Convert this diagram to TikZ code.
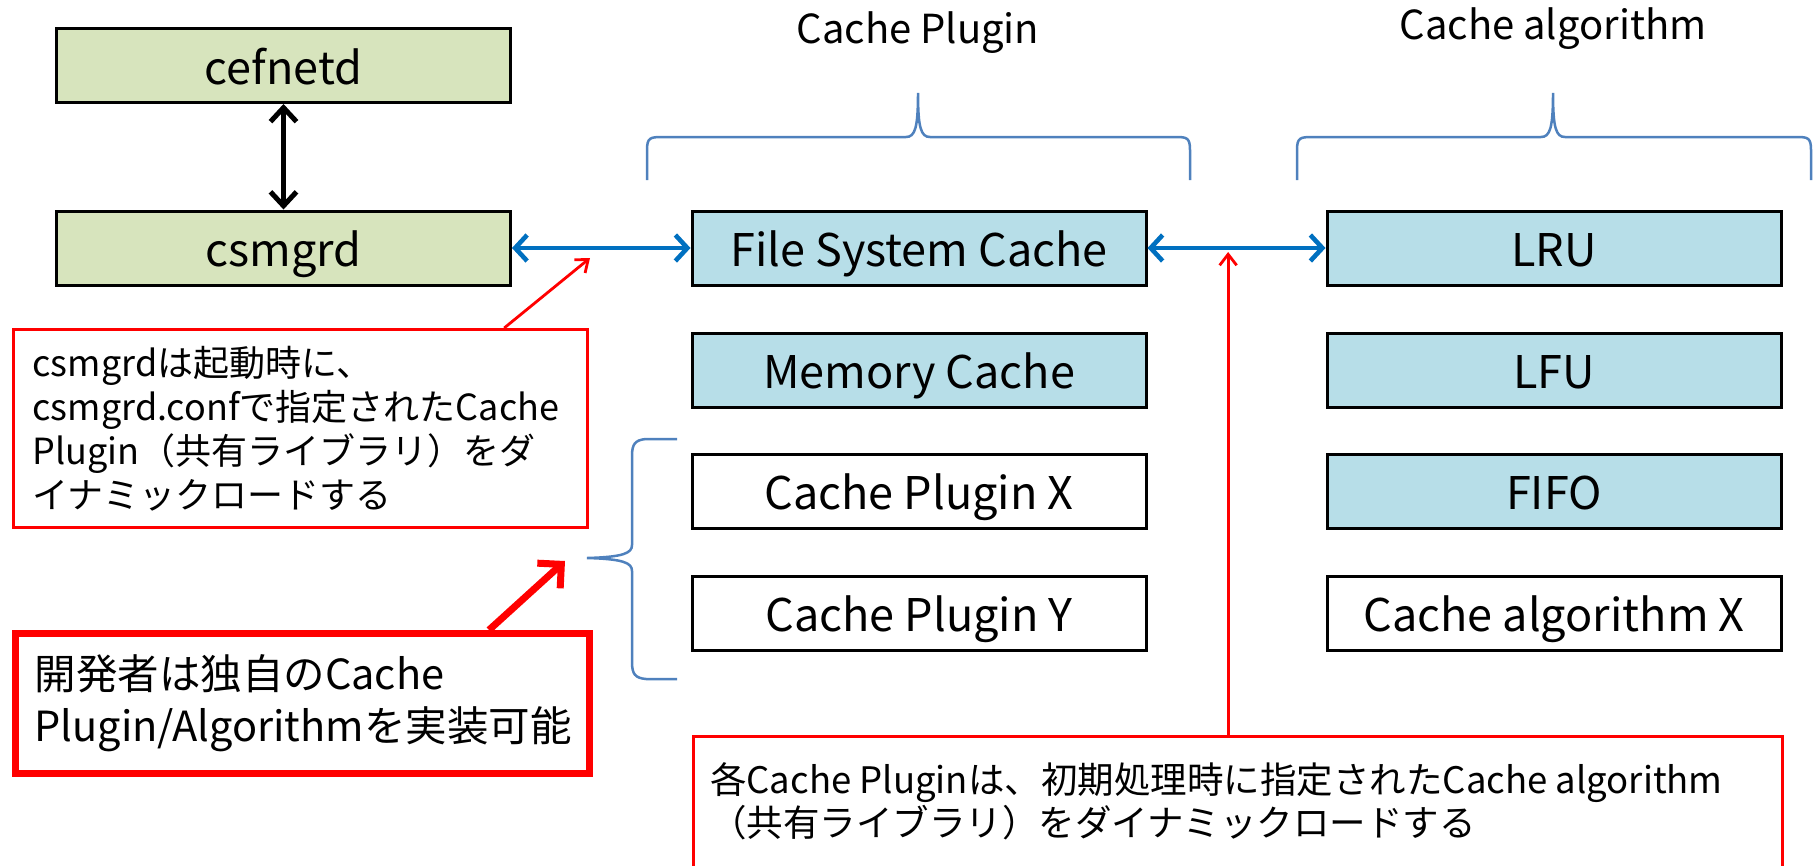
\documentclass[tikz,border=0pt]{standalone}
\usepackage{fontspec}
\setmainfont{Noto Sans CJK JP}
\usetikzlibrary{arrows.meta,calc}
\definecolor{grn}{HTML}{D7E4BD}
\definecolor{aq}{HTML}{B7DEE8}
\definecolor{blu}{HTML}{0070C0}
\definecolor{brc}{HTML}{4F81BD}
\definecolor{rd}{HTML}{FF0000}
\begin{document}
\begin{tikzpicture}[x=1pt,y=-1pt,
  box/.style={draw=black,line width=3pt,minimum width=454pt,minimum height=74pt,inner sep=0pt,text height=38pt,text depth=1pt,font=\fontsize{45}{54}\selectfont},
  barrow/.style={draw=blu,line width=4.6pt,{Straight Barb[length=12pt,width=26pt,line width=4.6pt]}-{Straight Barb[length=12pt,width=26pt,line width=4.6pt]}},
  karrow/.style={draw=black,line width=5pt,{Straight Barb[length=14pt,width=26pt,line width=5pt]}-{Straight Barb[length=14pt,width=26pt,line width=5pt]}},
  rthin/.style={draw=rd,line width=2.8pt,-{Straight Barb[length=11pt,width=17pt,line width=2.8pt]}},
  rthick/.style={draw=rd,line width=7pt,-{Straight Barb[length=17pt,width=34pt,line width=7pt]}},
  brace/.style={draw=brc,line width=2.5pt},
  note/.style={draw=rd,fill=white,inner xsep=19pt,align=left,anchor=north west},
  lbl/.style={font=\fontsize{40}{48}\selectfont}]
\useasboundingbox (0,0) rectangle (1820,865);

% left column
\node[box,fill=grn] (cef) at (283.5,65.5) {cefnetd};
\node[box,fill=grn] (csm) at (283.5,248) {csmgrd};
\draw[karrow] (cef.south) -- (csm.north);

% cache plugins
\node[box,fill=aq] (fsc) at (919,248) {File System Cache};
\node[box,fill=aq] (mem) at (919,370) {Memory Cache};
\node[box,fill=white] (cpx) at (919,491) {Cache Plugin X};
\node[box,fill=white] (cpy) at (919,613) {Cache Plugin Y};

% cache algorithms
\node[box,fill=aq] (lru) at (1554,248) {LRU};
\node[box,fill=aq] (lfu) at (1554,370) {LFU};
\node[box,fill=aq] (fifo) at (1554,491) {FIFO};
\node[box,fill=white] (cax) at (1554,613) {Cache algorithm X};

% top labels
\node[lbl] (lp) at (918,33) {Cache Plugin};
\node[lbl] (la) at (1553,29) {Cache algorithm};

% braces
\draw[brace] (647,180) -- (647,150) .. controls (647,138) and (650,137) .. (662,137)
  -- (906,137) .. controls (915,137) and (918,128) .. (918,93)
  .. controls (918,128) and (921,137) .. (930,137)
  -- (1176,137) .. controls (1187,137) and (1190,138) .. (1190,150) -- (1190,180);
\draw[brace] (1297,180) -- (1297,150) .. controls (1297,138) and (1300,137) .. (1312,137)
  -- (1541,137) .. controls (1550,137) and (1553,128) .. (1553,93)
  .. controls (1553,128) and (1556,137) .. (1565,137)
  -- (1797,137) .. controls (1808,137) and (1811,138) .. (1811,150) -- (1811,180);
\coordinate (bt) at (587,558);
\draw[brace] (677,439) -- (646,439) .. controls (635,440) and (632,444) .. (632,456)
  -- (632,545) .. controls (632,553) and (624,557) .. (bt)
  .. controls (624,559) and (632,563) .. (632,571)
  -- (632,662) .. controls (632,674) and (635,678) .. (646,679) -- (677,679);

% blue connectors
\draw[barrow] (csm.east) -- (fsc.west);
\draw[barrow] (fsc.east) -- (lru.west);
\coordinate (mid) at ($(fsc.east)!0.453!(lru.west)$);

% callout 1
\node[note,line width=3.2pt,minimum width=574pt,minimum height=198pt,text width=536pt,font=\fontsize{36}{44}\selectfont] (n1) at (12,328)
  {csmgrdは起動時に、\\csmgrd.confで指定されたCache\\Plugin（共有ライブラリ）をダ\\イナミックロードする};
\coordinate (t1) at (590,258);
\draw[rthin] ([xshift=-85pt]n1.north east) -- (t1);

% callout 2
\node[note,line width=7pt,minimum width=574pt,minimum height=140pt,text width=536pt,font=\fontsize{41.5}{52}\selectfont] (n2) at (12,630)
  {開発者は独自のCache\\Plugin/Algorithmを実装可能};
\coordinate (t2) at (565,561);
\draw[rthick] ([xshift=-104pt]n2.north east) -- (t2);

% callout 3 (runs off the bottom)
\begin{scope}
\clip (0,0) rectangle (1820,865);
\node[draw=rd,line width=2.8pt,fill=white,minimum width=1089pt,minimum height=160pt,anchor=north west,inner sep=0pt] (n3) at (692,735) {};
\end{scope}
\node[anchor=north west,align=left,inner sep=0pt,font=\fontsize{36.5}{43}\selectfont] (n3t) at (710,762)
  {各Cache Pluginは、初期処理時に指定されたCache algorithm\\（共有ライブラリ）をダイナミックロードする};
\draw[rthin] (n3.north -| mid) -- ([yshift=-4pt]mid);
\end{tikzpicture}
\end{document}
